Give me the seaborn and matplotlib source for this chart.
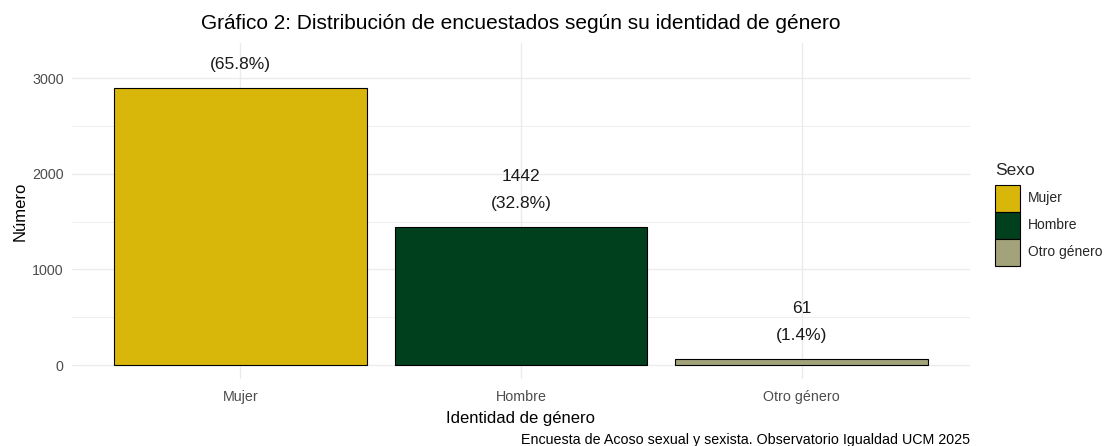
import matplotlib
matplotlib.use("Agg")
import matplotlib.pyplot as plt
import seaborn as sns
import pandas as pd
from matplotlib.ticker import MultipleLocator

categories = ["Mujer", "Hombre", "Otro género"]
counts = [2893, 1442, 61]
percent_labels = ["(65.8%)", "(32.8%)", "(1.4%)"]
colors = ["#D9B70A", "#00401C", "#A2A37B"]
yticks = [0, 1000, 2000, 3000]

df = pd.DataFrame({"Identidad": categories, "n": counts, "Sexo": categories})

sns.set_theme(style="white")
plt.rcParams["font.family"] = ["Liberation Sans", "DejaVu Sans"]

fig = plt.figure(figsize=(11.07, 4.46), dpi=100)
ax = fig.add_axes([72 / 1107, 1 - 379 / 446, (970 - 72) / 1107, (379 - 43) / 446])

sns.barplot(data=df, x="Identidad", y="n", hue="Sexo", palette=colors,
            hue_order=categories, order=categories, dodge=False, width=0.9,
            saturation=1, edgecolor="black", linewidth=0.8, ax=ax, legend=True)

ax.set_xlim(-0.6, len(categories) - 0.4)
ax.set_ylim(-146, 3366)
ax.set_yticks(yticks)
ax.yaxis.set_minor_locator(MultipleLocator(500))
ax.grid(True, which="major", color="#EBEBEB", linewidth=1.0)
ax.grid(True, which="minor", axis="y", color="#EBEBEB", linewidth=0.6)
ax.set_axisbelow(True)
for s in ax.spines.values():
    s.set_visible(False)
ax.tick_params(axis="both", which="both", length=0, labelsize=10.3,
               labelcolor="#4D4D4D", pad=8)
ax.tick_params(axis="y", pad=6)

# labels that fall outside the panel are clipped away (as in the reference)
fig.canvas.draw()
ax_top_px = ax.transAxes.transform((0, 1))[1]
for i, (c, p) in enumerate(zip(counts, percent_labels)):
    bar_top_px = ax.transData.transform((i, c))[1]
    for txt, off in ((p, 24), (str(c), 51)):
        if bar_top_px + off + 6 > ax_top_px:
            continue
        ax.annotate(txt, xy=(i, c), xytext=(0, off), textcoords="offset pixels",
                    ha="center", va="center", fontsize=12.5, color="#1A1A1A",
                    annotation_clip=False, clip_on=True)

ax.set_xlabel("Identidad de género", fontsize=12, color="black", labelpad=5)
ax.set_ylabel("Número", fontsize=12, color="black", labelpad=3)
ax.set_title("Gráfico 2: Distribución de encuestados según su identidad de género",
             fontsize=15, color="black", pad=10)

handles, labels = ax.get_legend_handles_labels()
if ax.legend_:
    ax.legend_.remove()
leg = fig.legend(handles, labels, title="Sexo", loc="upper left",
                 bbox_to_anchor=(992 / 1107, 1 - 160 / 446), frameon=False,
                 fontsize=10, title_fontsize=12.5, handlelength=1.8,
                 handleheight=2.61, labelspacing=0.0, handletextpad=0.6,
                 borderaxespad=0, borderpad=0.2, alignment="left")
leg._legend_box.sep = 5
for h in leg.legend_handles:
    h.set_edgecolor("black")
    h.set_linewidth(0.8)

fig.text(970 / 1107, 1 - 440 / 446,
         "Encuesta de Acoso sexual y sexista. Observatorio Igualdad UCM 2025",
         ha="right", va="center", fontsize=10.3, color="black")

fig.savefig("out.png", dpi=100)
